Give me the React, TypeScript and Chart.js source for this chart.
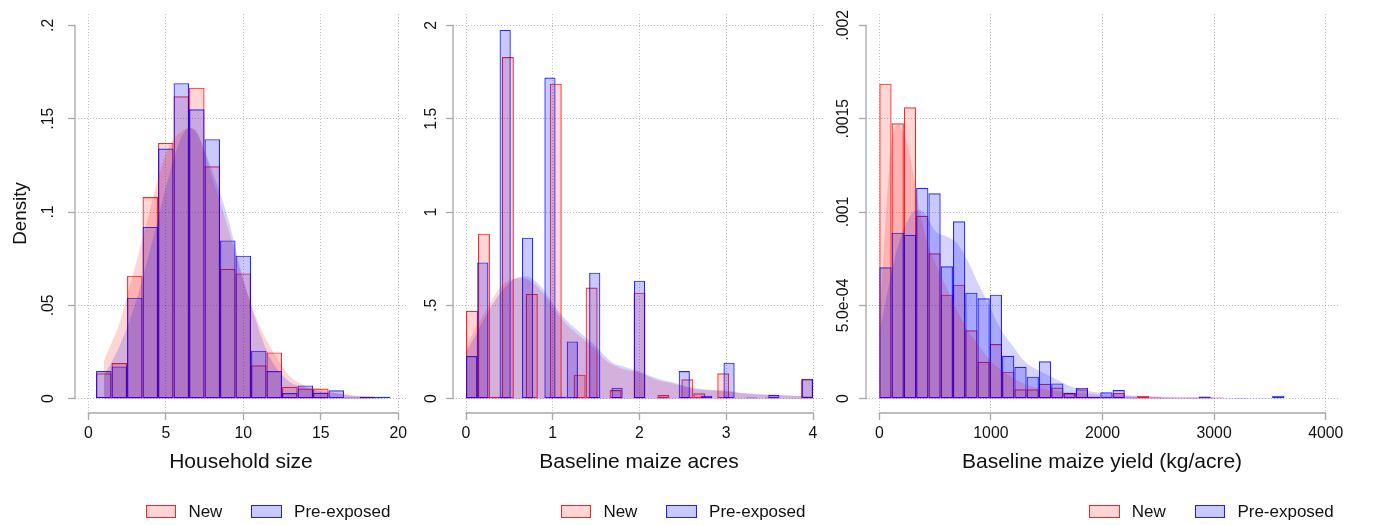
import React, { useEffect, useRef } from 'react';
import { Chart, registerables } from 'chart.js';

Chart.register(...registerables);

const FONT = "'Liberation Sans', Arial, Helvetica, sans-serif";
const TEXT = '#111111';
const GRID = 'rgba(0,0,0,0.26)';
const AXIS = '#a8a8a8';
const RED_FILL = 'rgba(255,0,0,0.16)';
const RED_LINE = 'rgba(255,0,0,0.85)';
const BLUE_FILL = 'rgba(0,0,255,0.21)';
const BLUE_LINE = 'rgba(0,0,255,0.85)';
const RED_DENS = 'rgba(255,0,0,0.17)';
const BLUE_DENS = 'rgba(0,0,255,0.17)';

// ---------- Panel 1: Household size ----------
const hhBinStart = 0.5;
const hhBinWidth = 1;
const hhNew = [0.0136, 0.0191, 0.0659, 0.108, 0.137, 0.162, 0.1666, 0.1245, 0.0696, 0.0671, 0.0179, 0.0248, 0.0064, 0.0054, 0.0054, 0, 0, 0.001, 0];
const hhPre = [0.0148, 0.0173, 0.0541, 0.092, 0.134, 0.169, 0.155, 0.139, 0.0848, 0.0766, 0.0257, 0.0148, 0.003, 0.0071, 0.0032, 0.0045, 0.0007, 0.001, 0.001];
const hhDensNewX = [1, 1.5, 2, 2.5, 3, 3.5, 4, 4.5, 5, 5.5, 6, 6.5, 7, 7.5, 8, 9, 10, 11, 12, 13, 14, 15, 16, 17, 18];
const hhDensNewY = [0.02, 0.03, 0.04, 0.055, 0.07, 0.086, 0.102, 0.118, 0.131, 0.139, 0.143, 0.145, 0.142, 0.132, 0.118, 0.092, 0.063, 0.04, 0.024, 0.012, 0.007, 0.005, 0.003, 0.002, 0.0012];
const hhDensPreX = [1, 2, 3, 4, 5, 5.5, 6, 6.5, 7, 7.5, 8, 8.5, 9, 9.5, 10, 10.5, 11, 11.5, 12, 13, 14, 15, 16, 17, 18, 19];
const hhDensPreY = [0.012, 0.028, 0.05, 0.08, 0.113, 0.128, 0.14, 0.145, 0.143, 0.133, 0.122, 0.11, 0.097, 0.081, 0.064, 0.05, 0.037, 0.026, 0.018, 0.009, 0.006, 0.004, 0.003, 0.0015, 0.001, 0.0005];
const hhXTicks = [0, 5, 10, 15, 20];
const hhXLabels = ['0', '5', '10', '15', '20'];
const hhYTicks = [0, 0.05, 0.1, 0.15, 0.2];
const hhYLabels = ['0', '.05', '.1', '.15', '.2'];

// ---------- Panel 2: Baseline maize acres ----------
const acNewBinStart = 0;
const acNewBinWidth = 4 / 29;
const acPreBinStart = 0;
const acPreBinWidth = 4 / 31;
const acNew = [0.47, 0.884, 0.011, 1.83, 0, 0.561, 0, 1.6875, 0, 0.1286, 0.595, 0, 0.046, 0, 0.568, 0, 0.0196, 0, 0.1036, 0.0286, 0, 0.1357, 0, 0, 0, 0.007, 0, 0, 0.1036];
const acPre = [0.2286, 0.73, 0, 1.975, 0.004, 0.8625, 0, 1.72, 0.011, 0.307, 0, 0.675, 0, 0.059, 0, 0.632, 0, 0.007, 0, 0.148, 0, 0.016, 0, 0.193, 0, 0.007, 0, 0.021, 0, 0.004, 0.107];
const acDensX = [0, 0.1, 0.2, 0.3, 0.4, 0.5, 0.6, 0.7, 0.8, 0.9, 1.0, 1.1, 1.2, 1.3, 1.4, 1.5, 1.6, 1.7, 1.8, 1.9, 2.0, 2.2, 2.4, 2.6, 2.8, 3.0, 3.2, 3.5, 3.8, 4.0];
const acDensNewY = [0.27, 0.37, 0.45, 0.53, 0.6, 0.635, 0.645, 0.64, 0.61, 0.56, 0.49, 0.43, 0.38, 0.34, 0.3, 0.26, 0.21, 0.18, 0.16, 0.15, 0.14, 0.1, 0.08, 0.055, 0.045, 0.04, 0.028, 0.02, 0.014, 0.01];
const acDensPreY = [0.25, 0.33, 0.42, 0.5, 0.57, 0.62, 0.65, 0.655, 0.63, 0.58, 0.51, 0.45, 0.4, 0.36, 0.32, 0.28, 0.23, 0.19, 0.175, 0.16, 0.145, 0.11, 0.085, 0.06, 0.048, 0.043, 0.03, 0.022, 0.016, 0.012];
const acXTicks = [0, 1, 2, 3, 4];
const acXLabels = ['0', '1', '2', '3', '4'];
const acYTicks = [0, 0.5, 1, 1.5, 2];
const acYLabels = ['0', '.5', '1', '1.5', '2'];

// ---------- Panel 3: Baseline maize yield ----------
const ydBinStart = 0;
const ydBinWidth = 110;
const ydNew = [0.0016875, 0.001475, 0.001561, 0.00098, 0.000779, 0.000557, 0.000611, 0.000366, 0.000198, 0.000293, 0.000145, 0.00005, 0.00005, 0.00008, 0.00006, 0.00003, 0.00005, 0.00001, 0, 0.00003, 0, 0.000016, 0.000007, 0, 0, 0, 0, 0.000007];
const ydPre = [0.000704, 0.000889, 0.000877, 0.00113, 0.0011, 0.000709, 0.00095, 0.000568, 0.000538, 0.000557, 0.00023, 0.000171, 0.000118, 0.0002, 0.000082, 0.00003, 0.000059, 0.00001, 0.000034, 0.000046, 0.000007, 0, 0, 0.000004, 0, 0.000005, 0.000012, 0, 0, 0.000005, 0, 0, 0.000016];
const ydDensNewX = [0, 40, 80, 120, 170, 220, 270, 320, 370, 420, 470, 520, 600, 700, 800, 900, 1000, 1100, 1200, 1300, 1400, 1600, 1800, 2000, 2500, 3000];
const ydDensNewY = [0.00042, 0.0008, 0.00118, 0.0014, 0.00147, 0.00142, 0.00132, 0.00115, 0.00098, 0.00086, 0.00077, 0.0007, 0.0006, 0.00047, 0.00036, 0.00028, 0.0002, 0.00015, 0.00011, 0.00008, 0.00006, 0.00004, 0.00003, 0.00002, 0.00001, 0.000007];
const ydDensPreX = [0, 50, 100, 150, 200, 250, 300, 350, 400, 450, 500, 550, 600, 700, 800, 900, 1000, 1100, 1200, 1300, 1400, 1500, 1600, 1700, 1800, 2000, 2200, 2500, 3000, 3600];
const ydDensPreY = [0.00035, 0.0005, 0.00065, 0.00078, 0.00088, 0.00095, 0.001, 0.00101, 0.001, 0.00095, 0.0009, 0.00088, 0.00087, 0.00083, 0.00073, 0.0006, 0.00048, 0.00036, 0.00028, 0.0002, 0.00016, 0.00013, 0.0001, 0.00007, 0.00005, 0.00003, 0.00002, 0.00001, 0.000005, 0.000003];
const ydXTicks = [0, 1000, 2000, 3000, 4000];
const ydXLabels = ['0', '1000', '2000', '3000', '4000'];
const ydYTicks = [0, 0.0005, 0.001, 0.0015, 0.002];
const ydYLabels = ['0', '5.0e-04', '.001', '.0015', '.002'];

const TICK_FONT = 15.8;
const TICK_LEN = 7;

function bars(values: number[], start: number, width: number) {
  return values.map((v, i) => ({ x: start + (i + 0.5) * width, y: v }));
}
function curve(xs: number[], ys: number[]) {
  return xs.map((x, i) => ({ x, y: ys[i] }));
}
function widest(labels: string[], size: number) {
  const ctx = document.createElement('canvas').getContext('2d')!;
  ctx.font = `normal ${size}px ${FONT}`;
  return Math.max(...labels.map((l) => ctx.measureText(l).width));
}

const panels = [
  {
    key: 'hh', left: 0, width: 420, padRight: 13, yWidth: 75, labelCenter: 48.4,
    xMin: -0.858, xMax: 20.561, yMin: -0.007659, yMax: 0.206053,
    newBars: bars(hhNew, hhBinStart, hhBinWidth), preBars: bars(hhPre, hhBinStart, hhBinWidth),
    newDens: curve(hhDensNewX, hhDensNewY), preDens: curve(hhDensPreX, hhDensPreY),
    xTicks: hhXTicks, xLabels: hhXLabels, yTicks: hhYTicks, yLabels: hhYLabels,
    xTitle: 'Household size', yTitle: 'Density', topGrid: false, legendLeft: 145.7,
  },
  {
    key: 'ac', left: 420, width: 410, padRight: 5, yWidth: 33, labelCenter: 11.3,
    xMin: -0.1499, xMax: 4.1383, yMin: -0.07659, yMax: 2.06053,
    newBars: bars(acNew, acNewBinStart, acNewBinWidth), preBars: bars(acPre, acPreBinStart, acPreBinWidth),
    newDens: curve(acDensX, acDensNewY), preDens: curve(acDensX, acDensPreY),
    xTicks: acXTicks, xLabels: acXLabels, yTicks: acYTicks, yLabels: acYLabels,
    xTitle: 'Baseline maize acres', yTitle: '', topGrid: true, legendLeft: 560.7,
  },
  {
    key: 'yd', left: 830, width: 550, padRight: 42, yWidth: 36, labelCenter: 13.3,
    xMin: -119.2, xMax: 4110.2, yMin: -0.00007659, yMax: 0.00206053,
    newBars: bars(ydNew, ydBinStart, ydBinWidth), preBars: bars(ydPre, ydBinStart, ydBinWidth),
    newDens: curve(ydDensNewX, ydDensNewY), preDens: curve(ydDensPreX, ydDensPreY),
    xTicks: ydXTicks, xLabels: ydXLabels, yTicks: ydYTicks, yLabels: ydYLabels,
    xTitle: 'Baseline maize yield (kg/acre)', yTitle: '', topGrid: false, legendLeft: 1089,
  },
];

type PanelCfg = (typeof panels)[number];

const axisLinePlugin = {
  id: 'stataAxes',
  afterDraw(chart: any) {
    const { ctx, chartArea, scales } = chart;
    const xs = scales.x;
    const ys = scales.y;
    const xt = xs.ticks;
    const yt = ys.ticks;
    ctx.save();
    ctx.strokeStyle = AXIS;
    ctx.lineWidth = 1.3;
    ctx.beginPath();
    ctx.moveTo(xs.getPixelForValue(xt[0].value) - 0.6, chartArea.bottom);
    ctx.lineTo(xs.getPixelForValue(xt[xt.length - 1].value) + 0.6, chartArea.bottom);
    ctx.moveTo(chartArea.left, ys.getPixelForValue(yt[0].value) + 0.6);
    ctx.lineTo(chartArea.left, ys.getPixelForValue(yt[yt.length - 1].value) - 0.6);
    ctx.stroke();
    ctx.restore();
  },
};

function hiddenX(min: number, max: number) {
  return {
    type: 'linear', axis: 'x', position: 'bottom', display: false, min, max, bounds: 'data',
    offset: false, grid: { offset: false },
    afterBuildTicks: (s: any) => { s.ticks = [{ value: 0 }]; },
  };
}

function Panel({ cfg }: { cfg: PanelCfg }) {
  const ref = useRef<HTMLCanvasElement>(null);
  useEffect(() => {
    const canvas = ref.current!;
    const yPad = cfg.yWidth - TICK_LEN - cfg.labelCenter - widest(cfg.yLabels, TICK_FONT) / 2;
    const lastY = cfg.yTicks.length - 1;
    const barCommon = {
      type: 'bar', borderWidth: 1.15, borderSkipped: false, inflateAmount: 0,
      barPercentage: 1, categoryPercentage: 1, grouped: false,
    };
    const densCommon = {
      type: 'line', xAxisID: 'x', fill: 'origin', borderWidth: 0, pointRadius: 0,
      cubicInterpolationMode: 'monotone',
    };
    const chart = new Chart(canvas, {
      type: 'bar',
      data: {
        datasets: [
          { ...densCommon, label: 'Pre-exposed density', data: cfg.preDens, backgroundColor: BLUE_DENS, borderColor: BLUE_DENS },
          { ...densCommon, label: 'New density', data: cfg.newDens, backgroundColor: RED_DENS, borderColor: RED_DENS },
          { ...barCommon, label: 'Pre-exposed', xAxisID: 'xb', data: cfg.preBars, backgroundColor: BLUE_FILL, borderColor: BLUE_LINE },
          { ...barCommon, label: 'New', xAxisID: 'xr', data: cfg.newBars, backgroundColor: RED_FILL, borderColor: RED_LINE },
        ] as any,
      },
      options: {
        responsive: false,
        animation: false,
        devicePixelRatio: 1,
        layout: { padding: { left: 0, top: 14, right: cfg.padRight, bottom: 0 } },
        plugins: { legend: { display: false }, tooltip: { enabled: false } },
        scales: {
          x: {
            type: 'linear', position: 'bottom', min: cfg.xMin, max: cfg.xMax, bounds: 'data', offset: false,
            afterBuildTicks: (s: any) => { s.ticks = cfg.xTicks.map((value) => ({ value })); },
            afterFit: (s: any) => { s.height = 112; s.paddingLeft = 0; s.paddingRight = 0; },
            ticks: {
              callback: (_v: any, i: number) => cfg.xLabels[i], font: { size: TICK_FONT, family: FONT }, color: TEXT,
              padding: 3.7, maxRotation: 0, minRotation: 0, autoSkip: false,
            },
            grid: { offset: false, color: GRID, lineWidth: 1, drawTicks: true, tickLength: TICK_LEN, tickColor: AXIS, tickWidth: 1.3, tickBorderDash: [] },
            border: { display: false, dash: [1, 2] },
            title: { display: true, text: cfg.xTitle, font: { size: 21, family: FONT }, color: TEXT, padding: { top: 0, bottom: 50.6 } },
          },
          xr: hiddenX(cfg.xMin, cfg.xMax),
          xb: hiddenX(cfg.xMin, cfg.xMax),
          y: {
            type: 'linear', position: 'left', min: cfg.yMin, max: cfg.yMax, bounds: 'data', beginAtZero: false,
            afterBuildTicks: (s: any) => { s.ticks = cfg.yTicks.map((value) => ({ value })); },
            afterFit: (s: any) => { s.width = cfg.yWidth; s.paddingTop = 0; s.paddingBottom = 0; },
            ticks: {
              callback: (_v: any, i: number) => cfg.yLabels[i], font: { size: TICK_FONT, family: FONT }, color: TEXT,
              minRotation: 90, maxRotation: 90, crossAlign: 'center', padding: yPad, autoSkip: false,
            },
            grid: {
              color: (c: any) => (!cfg.topGrid && c.index === lastY ? 'rgba(0,0,0,0)' : GRID),
              lineWidth: 1, drawTicks: true, tickLength: TICK_LEN, tickColor: AXIS, tickWidth: 1.3, tickBorderDash: [],
            },
            border: { display: false, dash: [1, 2] },
            title: cfg.yTitle
              ? { display: true, text: cfg.yTitle, font: { size: 18.8, family: FONT }, color: TEXT, padding: { top: 9.7, bottom: 0 } }
              : { display: false },
          },
        },
      } as any,
      plugins: [axisLinePlugin],
    });
    return () => chart.destroy();
  }, [cfg]);
  return (
    <canvas
      ref={ref}
      width={cfg.width}
      height={525}
      style={{ position: 'absolute', left: cfg.left, top: 0, width: cfg.width, height: 525, display: 'block' }}
    />
  );
}

function Box({ fill, line }: { fill: string; line: string }) {
  return (
    <span
      style={{
        display: 'inline-block', boxSizing: 'border-box', width: 30.7, height: 12.3,
        background: fill, border: `1.2px solid ${line}`, flex: '0 0 auto',
      }}
    />
  );
}

function Legend({ left }: { left: number }) {
  return (
    <div
      style={{
        position: 'absolute', left, top: 502, height: 19, display: 'flex', alignItems: 'center',
        fontFamily: FONT, fontSize: 17, lineHeight: '19px', color: TEXT, whiteSpace: 'nowrap',
      }}
    >
      <Box fill={RED_FILL} line={RED_LINE} />
      <span style={{ marginLeft: 12 }}>New</span>
      <span style={{ marginLeft: 29, display: 'inline-flex' }}>
        <Box fill={BLUE_FILL} line={BLUE_LINE} />
      </span>
      <span style={{ marginLeft: 12 }}>Pre-exposed</span>
    </div>
  );
}

export default function App() {
  return (
    <div style={{ position: 'absolute', left: 0, top: 0, width: 1380, height: 525, background: '#ffffff', overflow: 'hidden' }}>
      {panels.map((p) => (
        <Panel key={p.key} cfg={p} />
      ))}
      {panels.map((p) => (
        <Legend key={'lg' + p.key} left={p.legendLeft} />
      ))}
    </div>
  );
}
